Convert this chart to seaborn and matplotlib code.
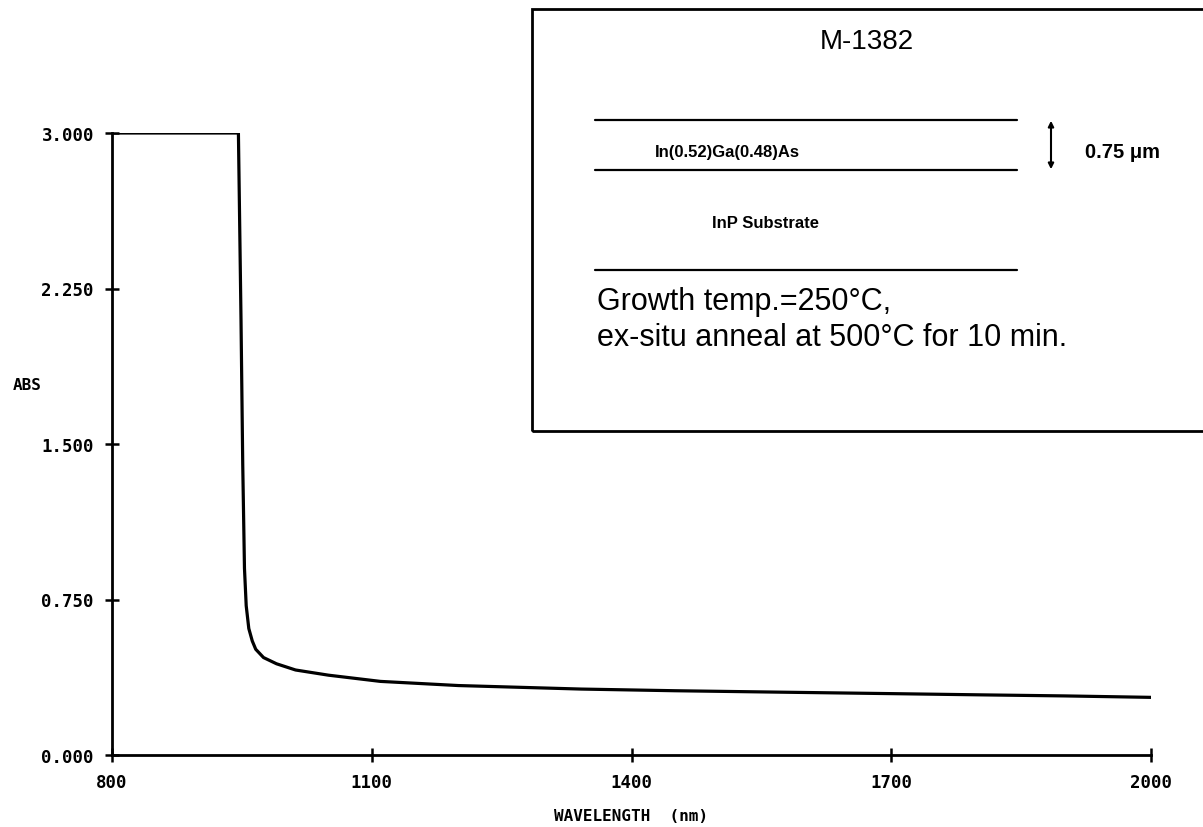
import seaborn as sns
import matplotlib.pyplot as plt
import pandas as pd
from matplotlib.patches import Rectangle, FancyArrowPatch
from matplotlib.lines import Line2D

# Data
wavelength = [800, 946, 949, 951, 953, 955, 958, 962, 966, 975, 990, 1012,
              1050, 1110, 1200, 1342, 1450, 1573, 1700, 1805, 1900, 2000]
absorbance = [3.0, 3.0, 2.1, 1.4, 0.9, 0.72, 0.61, 0.55, 0.51, 0.47, 0.44, 0.41,
              0.385, 0.355, 0.335, 0.318, 0.31, 0.303, 0.296, 0.29, 0.285, 0.278]
x_ticks = [800, 1100, 1400, 1700, 2000]
y_ticks = [0.0, 0.75, 1.5, 2.25, 3.0]

df = pd.DataFrame({"wavelength": wavelength, "abs": absorbance})

sns.set_style("white", {"text.color": "black", "axes.labelcolor": "black",
                        "xtick.color": "black", "ytick.color": "black",
                        "xtick.bottom": True, "ytick.left": True})
plt.rcParams['font.family'] = ['DejaVu Sans Mono']

fig = plt.figure(figsize=(12.03, 8.28), dpi=100)
ax = fig.add_axes([112 / 1203, 1 - 756 / 828, 1039 / 1203, 622 / 828])

sns.lineplot(data=df, x="wavelength", y="abs", ax=ax, color="black",
             linewidth=2.3, sort=True, estimator=None)

ax.set_xlim(800, 2000)
ax.set_ylim(0, 3.0)
ax.set_xticks(x_ticks)
ax.set_yticks(y_ticks)
ax.set_xticklabels([str(t) for t in x_ticks], fontsize=12.5, fontweight="bold")
ax.set_yticklabels(["%.3f" % t for t in y_ticks], fontsize=12.5, fontweight="bold")
ax.tick_params(bottom=True, left=True, direction="inout", length=10, width=1.8,
               color="black", labelcolor="black", pad=8)

for s in ["top", "right"]:
    ax.spines[s].set_visible(False)
for s in ["left", "bottom"]:
    ax.spines[s].set_linewidth(2)
    ax.spines[s].set_color("black")

ax.set_xlabel("WAVELENGTH  (nm)", fontsize=11.5, fontweight="bold", color="black")
ax.xaxis.set_label_coords(0.5, -0.085)
ax.set_ylabel("ABS", fontsize=11.5, fontweight="bold", rotation=0, color="black",
              va="center")
ax.yaxis.set_label_coords(-0.082, 0.596)

# inset sample description box (figure pixel coords -> fractions)
def fx(px):
    return px / 1203

def fy(py):
    return 1 - py / 828

fig.patches.append(Rectangle((fx(532), fy(432)), fx(700), fy(10) - fy(432),
                             transform=fig.transFigure, fill=False,
                             edgecolor="black", linewidth=2))

sans = ['Liberation Sans', 'DejaVu Sans']
fig.text(fx(867), fy(42), "M-1382", family=sans, fontsize=20,
         ha="center", va="center", color="black")

for py in [121, 171, 271]:
    fig.add_artist(Line2D([fx(595), fx(1017)], [fy(py), fy(py)],
                          transform=fig.transFigure, color="black", linewidth=1.6))

fig.text(fx(727), fy(152), "In(0.52)Ga(0.48)As", family=sans, fontsize=12,
         fontweight="bold", ha="center", va="center", color="black")
fig.text(fx(765), fy(223), "InP Substrate", family=sans, fontsize=12,
         fontweight="bold", ha="center", va="center", color="black")
fig.add_artist(FancyArrowPatch((fx(1051), fy(119)), (fx(1051), fy(173)),
                               transform=fig.transFigure, arrowstyle="<|-|>",
                               mutation_scale=8, color="black", linewidth=1.5))
fig.text(fx(1085), fy(152), "0.75 \u03bcm", family=sans, fontsize=14.5,
         fontweight="bold", ha="left", va="center", color="black")

fig.text(fx(597), fy(302), "Growth temp.=250\u00b0C,", family=sans, fontsize=22,
         ha="left", va="center", color="black")
fig.text(fx(597), fy(338), "ex-situ anneal at 500\u00b0C for 10 min.", family=sans,
         fontsize=22, ha="left", va="center", color="black")

fig.savefig("out.png", dpi=100)
